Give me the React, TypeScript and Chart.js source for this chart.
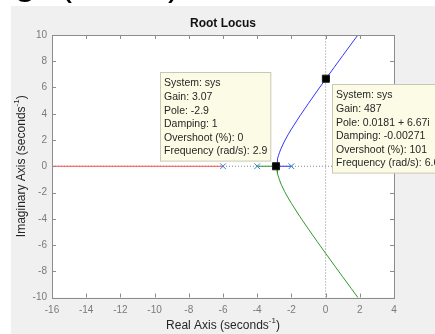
import React, { useEffect, useRef } from 'react';
import { Chart, registerables } from 'chart.js';

Chart.register(...registerables);

// ---- data ----
const poleRe = [-6, -4, -2];
const poleIm = [0, 0, 0];

// red branch: pole at -6 towards -infinity
const redRe = [-6, -16];
const redIm = [0, 0];

// blue branch: pole at -2 -> breakaway -> upper half plane
const blueRe = [-2, -2.845, -2.84, -2.83, -2.8, -2.75, -2.7, -2.6, -2.4, -2.2, -2.0, -1.5, -1.0, -0.5, 0, 0.5, 1.0, 1.5, 1.9, 2.1];
const blueIm = [0, 0, 0.19, 0.327, 0.566, 0.829, 1.034, 1.371, 1.918, 2.392, 2.828, 3.841, 4.796, 5.723, 6.633, 7.533, 8.426, 9.314, 10.02, 10.37];

// green branch: pole at -4 -> breakaway -> lower half plane
const greenRe = [-4, -2.845, -2.84, -2.83, -2.8, -2.75, -2.7, -2.6, -2.4, -2.2, -2.0, -1.5, -1.0, -0.5, 0, 0.5, 1.0, 1.5, 1.9, 2.1];
const greenIm = [0, 0, -0.19, -0.327, -0.566, -0.829, -1.034, -1.371, -1.918, -2.392, -2.828, -3.841, -4.796, -5.723, -6.633, -7.533, -8.426, -9.314, -10.02, -10.37];

// data tips
const tipRe = [-2.9, 0.0181];
const tipIm = [0, 6.67];
const tipTexts = [
  ['System: sys', 'Gain: 3.07', 'Pole: -2.9', 'Damping: 1', 'Overshoot (%): 0', 'Frequency (rad/s): 2.9'],
  ['System: sys', 'Gain: 487', 'Pole: 0.0181 + 6.67i', 'Damping: -0.00271', 'Overshoot (%): 101', 'Frequency (rad/s): 6.67'],
];
const tipSide = ['upLeft', 'downRight'];

const xMin = -16, xMax = 4, xStep = 2;
const yMin = -10, yMax = 10, yStep = 2;

const titleText = 'Root Locus';
const xLabel = ['Real Axis (seconds', '-1', ')'];
const yLabel = ['Imaginary Axis (seconds', '-1', ')'];

const pts = (xs: number[], ys: number[]) => xs.map((x, i) => ({ x, y: ys[i] }));

const FONT = 'Arial, "Liberation Sans", Helvetica, sans-serif';

function drawSupLabel(ctx: CanvasRenderingContext2D, cx: number, cy: number, rot: number, parts: string[]) {
  const mainFont = `12px ${FONT}`;
  const supFont = `8px ${FONT}`;
  ctx.save();
  ctx.translate(cx, cy);
  ctx.rotate(rot);
  ctx.font = mainFont;
  const w0 = ctx.measureText(parts[0]).width;
  const w2 = ctx.measureText(parts[2]).width;
  ctx.font = supFont;
  const w1 = ctx.measureText(parts[1]).width;
  const total = w0 + w1 + w2;
  let x = -total / 2;
  ctx.fillStyle = '#262626';
  ctx.textBaseline = 'middle';
  ctx.textAlign = 'left';
  ctx.font = mainFont;
  ctx.fillText(parts[0], x, 0);
  x += w0;
  ctx.font = supFont;
  ctx.fillText(parts[1], x, -5);
  x += w1;
  ctx.font = mainFont;
  ctx.fillText(parts[2], x, 0);
  ctx.restore();
}

const decorPlugin = {
  id: 'decor',
  beforeDraw(chart: any) {
    const { ctx, chartArea: a } = chart;
    ctx.save();
    ctx.fillStyle = '#ffffff';
    ctx.fillRect(0, 0, chart.width, chart.height);
    ctx.fillStyle = '#f0f0f0';
    ctx.fillRect(11, 6, chart.width - 11, chart.height - 6);
    ctx.fillStyle = '#ffffff';
    ctx.fillRect(a.left, a.top, a.right - a.left, a.bottom - a.top);
    // cropped glyphs from content above the figure
    ctx.fillStyle = '#000000';
    ctx.textBaseline = 'alphabetic';
    ctx.font = `bold 28px ${FONT}`;
    ctx.fillText('C', 14, 2);
    ctx.font = `36px ${FONT}`;
    ctx.fillText('(', 60, -5);
    ctx.fillText(')', 168, -5);
    ctx.restore();
  },
  afterDraw(chart: any) {
    const { ctx, chartArea: a, scales } = chart;
    const xs = scales.x, ys = scales.y;
    ctx.save();
    // frame
    ctx.strokeStyle = '#8c8c8c';
    ctx.lineWidth = 1;
    ctx.strokeRect(Math.round(a.left) + 0.5, Math.round(a.top) + 0.5, Math.round(a.right - a.left), Math.round(a.bottom - a.top));
    // inward ticks
    ctx.beginPath();
    for (let v = xMin; v <= xMax; v += xStep) {
      const px = Math.round(xs.getPixelForValue(v)) + 0.5;
      ctx.moveTo(px, a.bottom); ctx.lineTo(px, a.bottom - 4);
      ctx.moveTo(px, a.top); ctx.lineTo(px, a.top + 4);
    }
    for (let v = yMin; v <= yMax; v += yStep) {
      const py = Math.round(ys.getPixelForValue(v)) + 0.5;
      ctx.moveTo(a.left, py); ctx.lineTo(a.left + 4, py);
      ctx.moveTo(a.right, py); ctx.lineTo(a.right - 4, py);
    }
    ctx.stroke();

    // title
    ctx.fillStyle = '#111111';
    ctx.font = `bold 12px ${FONT}`;
    ctx.textAlign = 'center';
    ctx.textBaseline = 'middle';
    ctx.fillText(titleText, (a.left + a.right) / 2, 24);

    drawSupLabel(ctx, (a.left + a.right) / 2, 326, 0, xLabel);
    drawSupLabel(ctx, 22, (a.top + a.bottom) / 2, -Math.PI / 2, yLabel);

    // data tips
    const lh = 13.6;
    ctx.font = `10.5px ${FONT}`;
    tipRe.forEach((re, i) => {
      const lines = tipTexts[i];
      const mx = xs.getPixelForValue(re);
      const my = ys.getPixelForValue(tipIm[i]);
      const w = Math.max(...lines.map((l) => ctx.measureText(l).width)) + 7;
      const h = lines.length * lh + 7;
      let bx: number, by: number;
      if (tipSide[i] === 'upLeft') {
        bx = mx - 5.5 - w;
        by = my - 5.5 - h;
      } else {
        bx = mx + 6.5;
        by = my + 5.5;
      }
      bx = Math.round(bx) + 0.5;
      by = Math.round(by) + 0.5;
      ctx.fillStyle = '#fcfce6';
      ctx.fillRect(bx, by, w, h);
      ctx.strokeStyle = '#c8c8b4';
      ctx.strokeRect(bx, by, w, h);
      ctx.fillStyle = '#262626';
      ctx.textAlign = 'left';
      ctx.textBaseline = 'middle';
      lines.forEach((l, k) => ctx.fillText(l, bx + 3.5, by + 11 + k * lh));
    });
    ctx.restore();
  },
};

export default function App() {
  const ref = useRef<HTMLCanvasElement | null>(null);
  useEffect(() => {
    if (!ref.current) return;
    const chart = new Chart(ref.current, {
      type: 'scatter',
      data: {
        datasets: [
          {
            data: pts([xMin, xMax], [0, 0]),
            showLine: true, borderColor: '#8a8a8a', borderWidth: 1, borderDash: [1, 2], pointRadius: 0, order: 10,
          },
          {
            data: pts([0, 0], [yMin, yMax]),
            showLine: true, borderColor: '#8a8a8a', borderWidth: 1, borderDash: [1, 2], pointRadius: 0, order: 10,
          },
          {
            data: pts(redRe, redIm),
            showLine: true, borderColor: '#ff4d4d', borderWidth: 1, pointRadius: 0, order: 5,
          },
          {
            data: pts(greenRe, greenIm),
            showLine: true, borderColor: '#2e9a2e', borderWidth: 1, pointRadius: 0, order: 5, tension: 0,
          },
          {
            data: pts(blueRe, blueIm),
            showLine: true, borderColor: '#3535ff', borderWidth: 1, pointRadius: 0, order: 5, tension: 0,
          },
          {
            data: pts(poleRe, poleIm),
            showLine: false, pointStyle: 'crossRot', pointRadius: 4, pointBorderWidth: 1,
            pointBorderColor: '#2f7fd6', borderColor: '#2f7fd6', order: 2,
          },
          {
            data: pts(tipRe, tipIm),
            showLine: false, pointStyle: 'rect', pointRadius: 5, pointBorderWidth: 1,
            pointBackgroundColor: '#000000', pointBorderColor: '#1a1a1a', order: 1,
          },
        ],
      },
      options: {
        responsive: false,
        animation: false,
        devicePixelRatio: 1,
        layout: { padding: { left: 0, top: 35, right: 41, bottom: 0 } },
        plugins: { legend: { display: false }, tooltip: { enabled: false }, title: { display: false } },
        events: [],
        scales: {
          x: {
            type: 'linear', min: xMin, max: xMax,
            grid: { display: false, drawTicks: false },
            border: { display: false },
            ticks: { stepSize: xStep, color: '#7a7a7a', font: { size: 10, family: FONT }, padding: 7, maxRotation: 0 },
            afterFit: (s: any) => { s.height = 36.5; },
          },
          y: {
            type: 'linear', min: yMin, max: yMax,
            grid: { display: false, drawTicks: false },
            border: { display: false },
            ticks: { stepSize: yStep, color: '#7a7a7a', font: { size: 10, family: FONT }, padding: 5 },
            afterFit: (s: any) => { s.width = 52; },
          },
        },
      },
      plugins: [decorPlugin],
    } as any);
    return () => chart.destroy();
  }, []);
  return (
    <div style={{ position: 'fixed', left: 0, top: 0, width: 435, height: 334, overflow: 'hidden' }}>
      <canvas ref={ref} width={435} height={334} style={{ width: 435, height: 334, display: 'block' }} />
    </div>
  );
}
